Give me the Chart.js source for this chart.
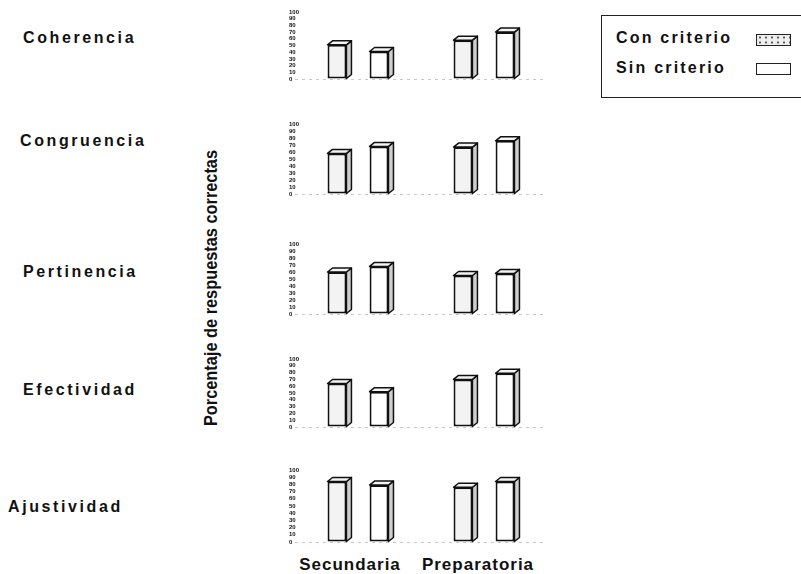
<!DOCTYPE html>
<html>
<head>
<meta charset="utf-8">
<script src="https://cdn.jsdelivr.net/npm/chart.js@4/dist/chart.umd.min.js"></script>
<style>
  body { margin: 0; background: #fff; width: 801px; height: 574px; overflow: hidden; position: relative; font-family: "Liberation Sans", Arial, sans-serif; }
  .panel { position: absolute; left: 270px; width: 290px; }
  .rowLabel { position: absolute; font-weight: bold; font-size: 16px; letter-spacing: 2.6px; color: #111; line-height: 18px; }
  .catLabel { position: absolute; top: 555px; transform: translateX(-50%); font-weight: bold; font-size: 17px; letter-spacing: 1px; color: #111; white-space: nowrap; }
  #ytitle { position: absolute; left: 211px; top: 288px; transform: translate(-50%, -50%) rotate(-90deg) scaleX(0.86); white-space: nowrap;
            font-family: "Liberation Sans", Arial, sans-serif; font-weight: bold; font-size: 19px; color: #111; }
  #legend { position: absolute; left: 601px; top: 15px; width: 215px; height: 81px; border: 1.5px solid #222; }
  .legItem { position: absolute; left: 14px; font-weight: bold; font-size: 16px; letter-spacing: 2.2px; color: #111; }
  .swatch { position: absolute; left: 154px; width: 33px; height: 10px; border: 1.5px solid #222; }
</style>
</head>
<body>
<div id="ytitle">Porcentaje de respuestas correctas</div>
<div id="legend">
  <div class="legItem" style="top:13px">Con criterio</div>
  <div class="swatch" style="top:18px;background:radial-gradient(#555 1px, transparent 1.5px) 0 0/6px 5px,#eeeeee"></div>
  <div class="legItem" style="top:43px">Sin criterio</div>
  <div class="swatch" style="top:47px;background:#fff"></div>
</div>
<script>
const categories = ["Secundaria", "Preparatoria"];
const criterios = ["Coherencia", "Congruencia", "Pertinencia", "Efectividad", "Ajustividad"];
const seriesNames = ["Con criterio", "Sin criterio"];
// valores por criterio: [Secundaria, Preparatoria]
const conCriterio = [[51, 58], [58, 67], [60, 55], [64, 70], [84, 76]];
const sinCriterio = [[41, 70], [68, 76], [68, 58], [52, 79], [79, 84]];
const yTickStep = 10;

// pixel rows of each panel: [y of 100, y of 0]
const panelRows = [[12, 79], [124, 194], [244, 314], [359, 427], [470, 542]];
const labelPos = [[23, 29], [20, 132], [23, 263], [23, 381], [8, 498]];

// draws side and top faces so bars look 3D
const bar3d = {
    id: "bar3d",
    afterDatasetsDraw(chart) {
        const ctx = chart.ctx;
        const d = 5, dy = 4;
        chart.data.datasets.forEach((ds, i) => {
            chart.getDatasetMeta(i).data.forEach(bar => {
                const p = bar.getProps(["x", "y", "base", "width"], true);
                const l = p.x - p.width / 2, r = p.x + p.width / 2;
                ctx.save();
                ctx.lineWidth = 1.5;
                ctx.strokeStyle = "#111";
                ctx.lineJoin = "round";
                // side
                ctx.beginPath();
                ctx.moveTo(r, p.y);
                ctx.lineTo(r + d, p.y - dy);
                ctx.lineTo(r + d, p.base - dy);
                ctx.lineTo(r, p.base);
                ctx.closePath();
                ctx.fillStyle = "#cfcfcf";
                ctx.fill();
                ctx.stroke();
                // top
                ctx.beginPath();
                ctx.moveTo(l, p.y);
                ctx.lineTo(l + d, p.y - dy);
                ctx.lineTo(r + d, p.y - dy);
                ctx.lineTo(r, p.y);
                ctx.closePath();
                ctx.fillStyle = "#f4f4f4";
                ctx.fill();
                ctx.stroke();
                ctx.restore();
            });
        });
    }
};

criterios.forEach((name, idx) => {
    const [yTop, yBottom] = panelRows[idx];
    const pad = 8;

    const label = document.createElement("div");
    label.className = "rowLabel";
    label.style.left = labelPos[idx][0] + "px";
    label.style.top = labelPos[idx][1] + "px";
    label.textContent = name;
    document.body.appendChild(label);

    const holder = document.createElement("div");
    holder.className = "panel";
    holder.style.top = (yTop - pad) + "px";
    holder.style.height = (yBottom - yTop + pad * 2) + "px";
    const canvas = document.createElement("canvas");
    holder.appendChild(canvas);
    document.body.appendChild(holder);

    new Chart(canvas.getContext("2d"), {
        type: "bar",
        data: {
            labels: categories,
            datasets: [
                {
                    label: seriesNames[0],
                    data: conCriterio[idx],
                    backgroundColor: "#f3f3f3",
                    borderColor: "#111",
                    borderWidth: 2,
                    borderSkipped: false
                },
                {
                    label: seriesNames[1],
                    data: sinCriterio[idx],
                    backgroundColor: "#ffffff",
                    borderColor: "#111",
                    borderWidth: 2,
                    borderSkipped: false
                }
            ]
        },
        options: {
            responsive: true,
            maintainAspectRatio: false,
            animation: false,
            categoryPercentage: 0.667,
            barPercentage: 0.45,
            layout: { padding: { top: pad, bottom: pad, right: 13, left: 0 } },
            plugins: { legend: { display: false }, tooltip: { enabled: false } },
            scales: {
                x: { display: false },
                y: {
                    min: 0,
                    max: 100,
                    afterFit: scale => { scale.width = 25; },
                    ticks: {
                        stepSize: yTickStep,
                        autoSkip: false,
                        mirror: true,
                        padding: -6,
                        color: "#111",
                        font: { size: 6, weight: "bold", family: "Liberation Sans" }
                    },
                    grid: {
                        drawTicks: false,
                        color: c => (c.tick && c.tick.value === 0 ? "#c8c8c8" : "transparent")
                    },
                    border: { display: false, dash: [3, 4] }
                }
            }
        },
        plugins: [bar3d]
    });
});

const catCenters = [350, 478];
categories.forEach((c, i) => {
    const el = document.createElement("div");
    el.className = "catLabel";
    el.style.left = catCenters[i] + "px";
    el.textContent = c;
    document.body.appendChild(el);
});
</script>
</body>
</html>
